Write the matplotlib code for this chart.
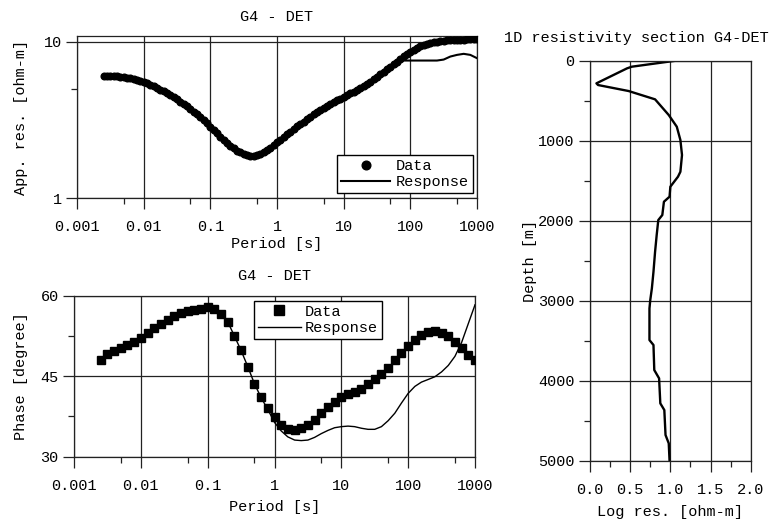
import matplotlib
matplotlib.use("Agg")
import matplotlib.pyplot as plt
from matplotlib.ticker import FixedLocator, NullFormatter, MultipleLocator

plt.rcParams['font.family'] = ['Liberation Mono', 'DejaVu Sans Mono']
plt.rcParams['font.size'] = 11

# -------------------------------
# Sounding data, station G4 - DET
# -------------------------------
# apparent resistivity is sampled twice as densely as the phase
period_rho = [0.00251, 0.00282, 0.00316, 0.00355, 0.00398, 0.00447,
              0.00501, 0.00562, 0.00631, 0.00708, 0.00794, 0.00891,
              0.01, 0.0112, 0.0126, 0.0141, 0.0158, 0.0178, 0.02, 0.0224, 0.0251, 0.0282,
              0.0316, 0.0355, 0.0398, 0.0447, 0.0501, 0.0562, 0.0631, 0.0708, 0.0794, 0.0891,
              0.1, 0.112, 0.126, 0.141, 0.158, 0.178, 0.2, 0.224, 0.251, 0.282,
              0.316, 0.355, 0.398, 0.447, 0.501, 0.562, 0.631, 0.708, 0.794, 0.891,
              1, 1.12, 1.26, 1.41, 1.58, 1.78, 2.0, 2.24, 2.51, 2.82,
              3.16, 3.55, 3.98, 4.47, 5.01, 5.62, 6.31, 7.08, 7.94, 8.91,
              10, 11.2, 12.6, 14.1, 15.8, 17.8, 20, 22.4, 25.1, 28.2,
              31.6, 35.5, 39.8, 44.7, 50.1, 56.2, 63.1, 70.8, 79.4, 89.1,
              100, 112, 126, 141, 158, 178, 200, 224, 251, 282,
              316, 355, 398, 447, 501, 562, 631, 708, 794, 891, 1000]

# apparent resistivity [ohm-m]
rho_data = [6.08, 6.06, 6.04, 6.02, 6.00, 5.97, 5.93, 5.89, 5.85, 5.79, 5.72, 5.64,
            5.55, 5.43, 5.30, 5.18, 5.07, 4.95, 4.82, 4.69, 4.56, 4.42,
            4.28, 4.14, 4.00, 3.86, 3.71, 3.57, 3.43, 3.28, 3.14, 3.00,
            2.86, 2.72, 2.59, 2.47, 2.35, 2.25, 2.16, 2.08, 2.01, 1.96,
            1.92, 1.89, 1.87, 1.87, 1.88, 1.91, 1.96, 2.02, 2.09, 2.18,
            2.27, 2.36, 2.46, 2.56, 2.66, 2.76, 2.87, 2.97, 3.08, 3.20,
            3.32, 3.44, 3.56, 3.67, 3.78, 3.89, 4.00, 4.11, 4.22, 4.33,
            4.44, 4.56, 4.68, 4.80, 4.92, 5.06, 5.22, 5.39, 5.57, 5.77,
            5.98, 6.21, 6.45, 6.70, 6.95, 7.21, 7.48, 7.78, 8.08, 8.38,
            8.67, 8.92, 9.15, 9.37, 9.57, 9.71, 9.82, 9.92, 10.0, 10.08,
            10.15, 10.22, 10.3, 10.3, 10.3, 10.32, 10.35, 10.38, 10.4, 10.4, 10.4]

period = [0.00251, 0.00316, 0.00398, 0.00501, 0.00631, 0.00794,
          0.01, 0.0126, 0.0158, 0.02, 0.0251, 0.0316, 0.0398, 0.0501, 0.0631, 0.0794,
          0.1, 0.126, 0.158, 0.2, 0.251, 0.316, 0.398, 0.501, 0.631, 0.794,
          1, 1.26, 1.58, 2, 2.51, 3.16, 3.98, 5.01, 6.31, 7.94,
          10, 12.6, 15.8, 20, 25.1, 31.6, 39.8, 50.1, 63.1, 79.4,
          100, 126, 158, 200, 251, 316, 398, 501, 631, 794, 1000]

rho_resp = [6.08, 6.04, 6.0, 5.93, 5.85, 5.72,
            5.55, 5.30, 5.07, 4.82, 4.56, 4.28, 4.00, 3.71, 3.43, 3.14,
            2.86, 2.59, 2.35, 2.16, 2.01, 1.92, 1.87, 1.88, 1.96, 2.09,
            2.27, 2.46, 2.66, 2.87, 3.08, 3.32, 3.56, 3.78, 4.00, 4.22,
            4.44, 4.68, 4.92, 5.22, 5.57, 5.98, 6.45, 6.95, 7.48, 7.59,
            7.59, 7.59, 7.59, 7.59, 7.59, 7.70, 8.05, 8.25, 8.38, 8.25, 7.86]

# phase [degree]
phase_data = [48.1, 49.1, 49.7, 50.2, 50.8, 51.4,
              52.2, 53.1, 53.9, 54.7, 55.5, 56.2, 56.8, 57.2, 57.4, 57.6,
              57.9, 57.6, 56.6, 55.1, 52.5, 49.8, 46.8, 43.6, 41.2, 39.1,
              37.4, 35.9, 35.1, 35.0, 35.3, 35.9, 36.8, 38.1, 39.3, 40.2,
              41.1, 41.7, 42.1, 42.7, 43.5, 44.4, 45.5, 46.6, 48.0, 49.3,
              50.6, 51.7, 52.7, 53.3, 53.5, 53.1, 52.4, 51.4, 50.2, 49.0, 48.0]
phase_resp = [48.1, 49.1, 49.7, 50.2, 50.8, 51.4,
              52.2, 53.1, 53.9, 54.7, 55.5, 56.2, 56.8, 57.2, 57.4, 57.6,
              57.9, 57.6, 56.6, 55.1, 52.5, 49.8, 46.8, 43.6, 41.0, 38.8,
              36.4, 34.8, 33.7, 33.1, 33.0, 33.1, 33.6, 34.3, 34.9, 35.4,
              35.6, 35.7, 35.6, 35.3, 35.1, 35.1, 35.6, 36.7, 38.1, 40.0,
              41.8, 43.1, 43.9, 44.4, 44.9, 45.8, 47.0, 48.7, 51.3, 54.8, 58.3]

# 1D inversion model
depth = [0, 20, 75, 96, 283, 304, 379, 483, 679, 825, 992, 1179, 1388, 1450,
         1575, 1700, 1763, 1929, 1992, 2179, 2388, 2638, 2846, 2992, 3096,
         3492, 3554, 3867, 3971, 4283, 4367, 4679, 4783, 5000]
log_res = [1.07, 0.92, 0.52, 0.46, 0.08, 0.10, 0.48, 0.81, 0.98, 1.08, 1.125,
           1.145, 1.125, 1.095, 1.0, 0.99, 0.92, 0.90, 0.85, 0.83, 0.81, 0.79,
           0.77, 0.75, 0.74, 0.74, 0.79, 0.80, 0.86, 0.875, 0.925, 0.94,
           0.98, 0.99]

period_ticks = [0.001, 0.01, 0.1, 1, 10, 100, 1000]
period_labels = ['0.001', '0.01', '0.1', '1', '10', '100', '1000']
period_minor = [0.005, 0.05, 0.5, 5, 50, 500]
res_ticks = [0, 0.5, 1.0, 1.5, 2.0]
res_labels = ['0.0', '0.5', '1.0', '1.5', '2.0']

ink = '#222222'
legend_opts = dict(borderaxespad=0, fancybox=False, edgecolor='black', framealpha=1,
                   numpoints=1, labelspacing=0.15, borderpad=0.25, markerscale=1.3)


def style_axes(ax):
    for s in ax.spines.values():
        s.set_color(ink)
        s.set_linewidth(0.9)
    ax.tick_params(which='major', direction='out', length=8, width=0.9, color=ink, pad=3)
    ax.tick_params(which='minor', direction='out', length=4, width=0.9, color=ink)
    ax.tick_params(axis='x', which='major', pad=8)
    ax.grid(True, which='major', color=ink, linewidth=0.9)


def period_axis(ax, labelpad):
    ax.set_xscale('log')
    ax.set_xlim(0.001, 1000)
    ax.xaxis.set_major_locator(FixedLocator(period_ticks))
    ax.set_xticklabels(period_labels)
    ax.xaxis.set_minor_locator(FixedLocator(period_minor))
    ax.xaxis.set_minor_formatter(NullFormatter())
    ax.set_xlabel('Period [s]', labelpad=labelpad)


fig = plt.figure(figsize=(7.78, 5.22), dpi=100)

# -------------------------------
# Apparent resistivity
# -------------------------------
ax1 = fig.add_axes([77/778, 1 - 198/522, 400/778, 162/522])
resp1, = ax1.plot(period, rho_resp, color='black', lw=1.5, zorder=3)
data1, = ax1.plot(period_rho, rho_data, 'o', color='black', ms=4.8, zorder=4)
ax1.set_yscale('log')
ax1.set_ylim(1, 10.9)
ax1.yaxis.set_major_locator(FixedLocator([1, 10]))
ax1.set_yticklabels(['1', '10'])
ax1.yaxis.set_minor_locator(FixedLocator([5]))
ax1.yaxis.set_minor_formatter(NullFormatter())
period_axis(ax1, 2)
ax1.set_ylabel('App. res. [ohm-m]', labelpad=11)
ax1.set_title('G4 - DET', fontsize=11, pad=11)
style_axes(ax1)
ax1.legend([data1, resp1], ['Data', 'Response'], loc='lower right',
           bbox_to_anchor=(0.99, 0.03), handlelength=3.2, handletextpad=0.4,
           **legend_opts)

# -------------------------------
# Phase
# -------------------------------
ax2 = fig.add_axes([74/778, 1 - 456.7/522, 401/778, 161/522])
ax2.plot(period, phase_data, 's', color='black', ms=5.2, label='Data', zorder=3)
ax2.plot(period, phase_resp, color='black', lw=1.0, label='Response', zorder=4)
ax2.set_ylim(30, 60)
ax2.yaxis.set_major_locator(FixedLocator([30, 45, 60]))
ax2.yaxis.set_minor_locator(FixedLocator([37.5, 52.5]))
period_axis(ax2, 5)
ax2.set_ylabel('Phase [degree]', labelpad=9)
ax2.set_title('G4 - DET', fontsize=11, pad=11)
style_axes(ax2)
ax2.legend(loc='upper left', bbox_to_anchor=(0.449, 0.967),
           handlelength=2.8, handletextpad=0.3, **legend_opts)

# -------------------------------
# 1D resistivity section
# -------------------------------
ax3 = fig.add_axes([590/778, 1 - 460.7/522, 160.7/778, 400/522])
ax3.plot(log_res, depth, color='black', lw=1.7)
ax3.set_xlim(0, 2)
ax3.set_ylim(5000, 0)
ax3.set_xticks(res_ticks)
ax3.set_xticklabels(res_labels)
ax3.xaxis.set_minor_locator(MultipleLocator(0.25))
ax3.yaxis.set_major_locator(MultipleLocator(1000))
ax3.yaxis.set_minor_locator(MultipleLocator(500))
ax3.set_xlabel('Log res. [ohm-m]', labelpad=6)
ax3.set_ylabel('Depth [m]', labelpad=1)
style_axes(ax3)
fig.text(636/778, 1 - 38/522, '1D resistivity section G4-DET', ha='center', va='center',
         fontsize=11)

plt.savefig('out.png', dpi=100)
